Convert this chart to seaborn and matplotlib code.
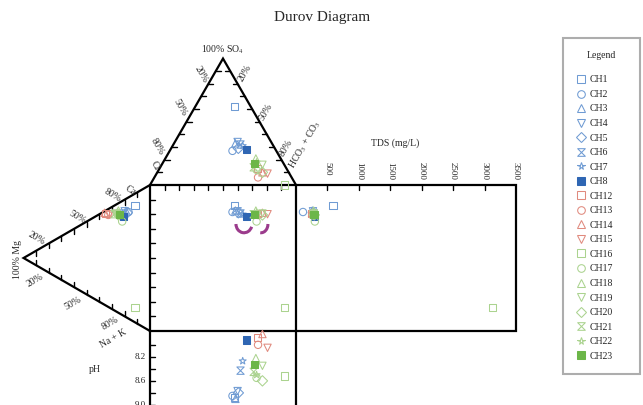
import numpy as np
import pandas as pd
import matplotlib.pyplot as plt
import seaborn as sns
from matplotlib.path import Path
from matplotlib.lines import Line2D
from matplotlib.patches import Arc

# sample data (percent of meq, TDS in mg/L)
samples = ['CH1', 'CH2', 'CH3', 'CH4', 'CH5', 'CH6', 'CH7', 'CH8',
           'CH12', 'CH13', 'CH14', 'CH15',
           'CH16', 'CH17', 'CH18', 'CH19', 'CH20', 'CH21', 'CH22', 'CH23']
ca = [80, 73, 73, 72, 72, 70, 70, 68, 63, 63, 63, 64, 10, 64, 70, 67, 67, 66, 68, 68]
mg = [12, 17, 19, 20, 18, 21, 20, 21, 35, 33, 36, 32, 12, 22, 25, 27, 25, 28, 26, 24]
na_k = [8, 10, 8, 8, 10, 9, 10, 11, 2, 4, 1, 4, 78, 14, 5, 6, 8, 6, 6, 8]
so4 = [62, 27, 33, 34, 29, 32, 31, 28, 13, 6, 10, 9, 0, 12, 21, 16, 10, 14, 18, 17]
hco3 = [27, 43, 42, 43, 46, 46, 48, 52, 67, 71, 72, 76, 92, 67, 62, 69, 72, 64, 64, 63]
cl = [11, 30, 25, 23, 25, 22, 21, 20, 20, 23, 18, 15, 8, 21, 17, 15, 18, 22, 18, 20]
tds = [590, 111, 260, 270, 275, 280, 270, 290, 250, 260, 255, 265,
       3130, 300, 280, 285, 290, 275, 270, 285]
ph = [8.88, 8.85, 8.90, 8.77, 8.80, 8.43, 8.27, 7.92, 7.88, 8.00, 7.82, 8.05,
      8.52, 8.55, 8.22, 8.35, 8.60, 8.45, 8.50, 8.33]

tds_ticks = [500, 1000, 1500, 2000, 2500, 3000, 3500]
ph_ticks = [8.2, 8.6, 9.0]

blue, blue_f = '#6f9bd3', '#2f66b3'
red = '#e08a7e'
green, green_f = '#abd38f', '#6cb648'
colors = {s: blue for s in samples[:8]}
colors.update({s: red for s in samples[8:12]})
colors.update({s: green for s in samples[12:]})
colors['CH8'] = blue_f
colors['CH23'] = green_f
filled = ['CH8', 'CH23']

hourglass = Path([(-1, 1), (1, 1), (-1, -1), (1, -1), (-1, 1)],
                 [Path.MOVETO, Path.LINETO, Path.LINETO, Path.LINETO, Path.CLOSEPOLY])
shape_cycle = ['s', 'o', '^', 'v', 'D', hourglass, '*', 's']
markers = {}
for i, s in enumerate(samples[:8]):
    markers[s] = shape_cycle[i]
for i, s in enumerate(samples[8:12]):
    markers[s] = shape_cycle[i]
for i, s in enumerate(samples[12:]):
    markers[s] = shape_cycle[i]

sns.set_style('white')
plt.rcParams['font.family'] = ['Liberation Serif', 'DejaVu Serif']
plt.rcParams['mathtext.fontset'] = 'stix'

# geometry: square side = 1
S3 = np.sqrt(3) / 2
PX = 146.0                      # pixels per unit
TDS_W = 220 / PX
TDS_MAX = 3500
PH_TOP, PH_SPAN = 7.77, 2.43
L = 5 / PX

an = np.array([so4, hco3, cl], float)
an = an / an.sum(axis=0)
cat = np.array([ca, mg, na_k], float)
cat = cat / cat.sum(axis=0)
cx = an[1] + 0.5 * an[0]
cy = cat[0] + 0.5 * cat[1]

parts = [
    pd.DataFrame({'sample': samples, 'x': cx, 'y': 1 + S3 * an[0]}),
    pd.DataFrame({'sample': samples, 'x': -S3 * cat[1], 'y': cy}),
    pd.DataFrame({'sample': samples, 'x': cx, 'y': cy}),
    pd.DataFrame({'sample': samples, 'x': 1 + np.array(tds) / TDS_MAX * TDS_W, 'y': cy}),
    pd.DataFrame({'sample': samples, 'x': cx, 'y': -(np.array(ph) - PH_TOP) / PH_SPAN}),
]
pts = pd.concat(parts, ignore_index=True)

fig = plt.figure(figsize=(6.43, 4.05), dpi=100)
ax = fig.add_axes([0, 0, 1, 1])


def u(px, py):
    # figure pixel -> diagram units
    return (px - 150) / PX, 1 - (py - 185) / PX


def line(xs, ys, lw=1.6):
    ax.plot(xs, ys, color='k', lw=lw, solid_joinstyle='miter', zorder=2)


def ticks(p0, p1, d):
    for t in np.arange(1, 10) / 10:
        x = p0[0] + (p1[0] - p0[0]) * t
        y = p0[1] + (p1[1] - p0[1]) * t
        ax.plot([x, x + d[0]], [y, y + d[1]], color='k', lw=1, zorder=2)


# frames
line([0, 0.5, 1], [1, 1 + S3, 1])
line([0, -S3, 0], [1, 0.5, 0])
line([0, 1 + TDS_W, 1 + TDS_W, 0, 0], [1, 1, 0, 0, 1])
line([1, 1], [1, -1.2])
line([0, 0], [0, -1.2])

ticks((0, 1), (0.5, 1 + S3), (L, 0))
ticks((1, 1), (0.5, 1 + S3), (-L, 0))
ticks((0, 1), (1, 1), (0, -L))
ticks((0, 0), (0, 1), (L, 0))
ticks((-S3, 0.5), (0, 1), (0, -L))
ticks((-S3, 0.5), (0, 0), (0, L))

for v in tds_ticks[:-1]:
    x = 1 + v / TDS_MAX * TDS_W
    ax.plot([x, x], [1, 1 - L], color='k', lw=1)
for v in tds_ticks:
    x = 1 + v / TDS_MAX * TDS_W
    ax.text(x, u(0, 162)[1], str(v), rotation=-90, ha='center', va='top', fontsize=6.5)

for v in np.arange(8.0, 9.3, 0.2):
    y = -(v - PH_TOP) / PH_SPAN
    ax.plot([0, L], [y, y], color='k', lw=1)
for v in ph_ticks:
    y = -(v - PH_TOP) / PH_SPAN
    ax.text(-0.03, y, f'{v:.1f}', ha='right', va='center', fontsize=6.5)

# axis labels
fs = 7
ax.text(*u(223, 56), '100% SO$_4$', ha='center', va='bottom', fontsize=fs)
for px, py, s in [(201, 74, '20%'), (180, 108, '50%'), (157, 147, '80%'), (155, 166, 'Cl')]:
    ax.text(*u(px, py), s, rotation=-60, ha='center', va='center', fontsize=fs)
for px, py, s in [(245, 73, '20%'), (266, 112, '50%'), (286, 148, '80%'),
                  (305, 145, 'HCO$_3$ + CO$_3$')]:
    ax.text(*u(px, py), s, rotation=60, ha='center', va='center', fontsize=fs)
for px, py, s in [(37, 238, '20%'), (77, 217, '50%'), (113, 195, '80%'), (131, 191, 'Ca')]:
    ax.text(*u(px, py), s, rotation=-30, ha='center', va='center', fontsize=fs)
for px, py, s in [(35, 280, '20%'), (73, 303, '50%'), (110, 323, '80%'), (113, 339, 'Na + K')]:
    ax.text(*u(px, py), s, rotation=30, ha='center', va='center', fontsize=fs)
ax.text(*u(17, 260), '100% Mg', rotation=90, ha='center', va='center', fontsize=fs)
ax.text(*u(395, 143), 'TDS (mg/L)', ha='center', va='center', fontsize=fs)
ax.text(*u(95, 370), 'pH', ha='center', va='center', fontsize=fs)

# purple marks in the square
ax.add_patch(Arc(u(244, 224), 0.11, 0.12, theta1=180, theta2=340,
                 color='#9b3b8c', lw=2.2, zorder=2))
ax.add_patch(Arc(u(261, 224), 0.095, 0.12, theta1=265, theta2=360,
                 color='#9b3b8c', lw=2.2, zorder=2))

# data points
sns.scatterplot(data=pts, x='x', y='y', hue='sample', style='sample',
                palette=colors, markers=markers, s=28, linewidth=0.75,
                legend=False, ax=ax, zorder=3)
coll = ax.collections[-1]
fc = np.array(coll.get_facecolors())
coll.set_edgecolors(fc.copy())
hollow = ~pts['sample'].isin(filled).to_numpy()
fc[hollow, 3] = 0
coll.set_facecolors(fc)

ax.set_xlim(-150 / PX, (643 - 150) / PX)
ax.set_ylim(1 - (405 - 185) / PX, 1 + 185 / PX)
ax.axis('off')

fig.text(322 / 643, 1 - 18 / 405, 'Durov Diagram', ha='center', va='center', fontsize=11)

handles = [Line2D([], [], ls='none', marker=markers[s], markersize=5.5,
                  markerfacecolor=colors[s] if s in filled else 'none',
                  markeredgecolor=colors[s], markeredgewidth=0.75) for s in samples]
leg = ax.legend(handles, samples, title='Legend', loc='upper left',
                bbox_to_anchor=(563 / 643, 1 - 372 / 405, 77 / 643, 334 / 405),
                bbox_transform=fig.transFigure, mode='expand', borderaxespad=0,
                fontsize=7, title_fontsize=7, frameon=True, fancybox=False,
                edgecolor='#999999', labelspacing=0.57, handletextpad=0.4,
                handlelength=1.0, borderpad=1.35)
leg._legend_box.sep = 11
leg.get_frame().set_linewidth(1.5)

plt.savefig('out.png', dpi=100)
